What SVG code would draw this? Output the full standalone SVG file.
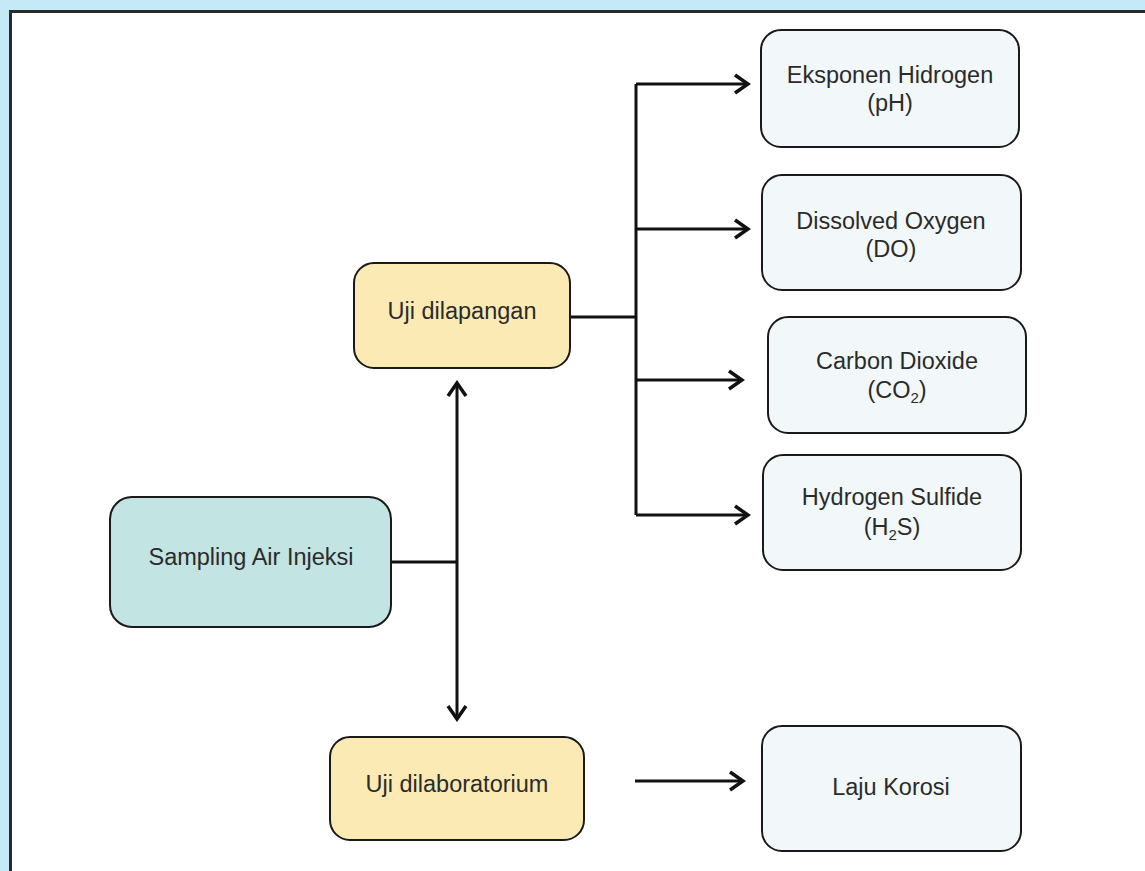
<svg xmlns="http://www.w3.org/2000/svg" width="1145" height="871" viewBox="0 0 1145 871">
<defs>
<style>
.bg{fill:#c6e9f8}
.frame{fill:#ffffff;stroke:#2a2a2a;stroke-width:3}
.box{stroke:#1a1a1a;stroke-width:2}
.out{fill:#f2f7fa}
.mid{fill:#fbeab4}
.src{fill:#c2e4e2}
.t{font-family:"Liberation Sans",Arial,sans-serif;font-size:23.5px;fill:#2b2b2b;text-anchor:middle}
.c{fill:none;stroke:#111;stroke-width:3}
</style>
<marker id="ah" viewBox="0 0 20 22" refX="17" refY="11" markerWidth="20" markerHeight="22" markerUnits="userSpaceOnUse" orient="auto-start-reverse">
<path d="M4,2 L17,11 L4,20" fill="none" stroke="#111" stroke-width="3.5"/>
</marker>
</defs>
<rect class="bg" x="0" y="0" width="1145" height="871"/>
<rect class="frame" x="10.5" y="11.5" width="1150" height="880"/>

<g id="connectors">
<path class="c" d="M391,562 H457"/>
<path class="c" d="M457,383 V719" marker-start="url(#ah)" marker-end="url(#ah)"/>
<path class="c" d="M570,317 H636"/>
<path class="c" d="M636,84 V515"/>
<path class="c" d="M636,84 H748" marker-end="url(#ah)"/>
<path class="c" d="M636,229 H748" marker-end="url(#ah)"/>
<path class="c" d="M636,380 H742" marker-end="url(#ah)"/>
<path class="c" d="M636,515 H748" marker-end="url(#ah)"/>
<path class="c" d="M635,781 H743" marker-end="url(#ah)"/>
</g>

<g id="node-sampling">
<rect class="box src" x="110" y="497" width="281" height="130" rx="22"/>
<text class="t" x="251" y="565">Sampling Air Injeksi</text>
</g>
<g id="node-uji-lapangan">
<rect class="box mid" x="354" y="263" width="216" height="105" rx="20"/>
<text class="t" x="462" y="319">Uji dilapangan</text>
</g>
<g id="node-uji-lab">
<rect class="box mid" x="330" y="737" width="254" height="103" rx="20"/>
<text class="t" x="457" y="792">Uji dilaboratorium</text>
</g>
<g id="node-ph">
<rect class="box out" x="761" y="30" width="258" height="117" rx="20"/>
<text class="t" x="890" y="83">Eksponen Hidrogen</text>
<text class="t" x="890" y="111">(pH)</text>
</g>
<g id="node-do">
<rect class="box out" x="762" y="175" width="259" height="115" rx="20"/>
<text class="t" x="891" y="229">Dissolved Oxygen</text>
<text class="t" x="891" y="257">(DO)</text>
</g>
<g id="node-co2">
<rect class="box out" x="768" y="317" width="258" height="116" rx="20"/>
<text class="t" x="897" y="369">Carbon Dioxide</text>
<text class="t" x="897" y="398">(CO<tspan font-size="15" dy="5">2</tspan><tspan dy="-5">)</tspan></text>
</g>
<g id="node-h2s">
<rect class="box out" x="763" y="455" width="258" height="115" rx="20"/>
<text class="t" x="892" y="505">Hydrogen Sulfide</text>
<text class="t" x="892" y="535">(H<tspan font-size="15" dy="5">2</tspan><tspan dy="-5">S)</tspan></text>
</g>
<g id="node-laju">
<rect class="box out" x="762" y="726" width="259" height="125" rx="20"/>
<text class="t" x="891" y="795">Laju Korosi</text>
</g>
</svg>
